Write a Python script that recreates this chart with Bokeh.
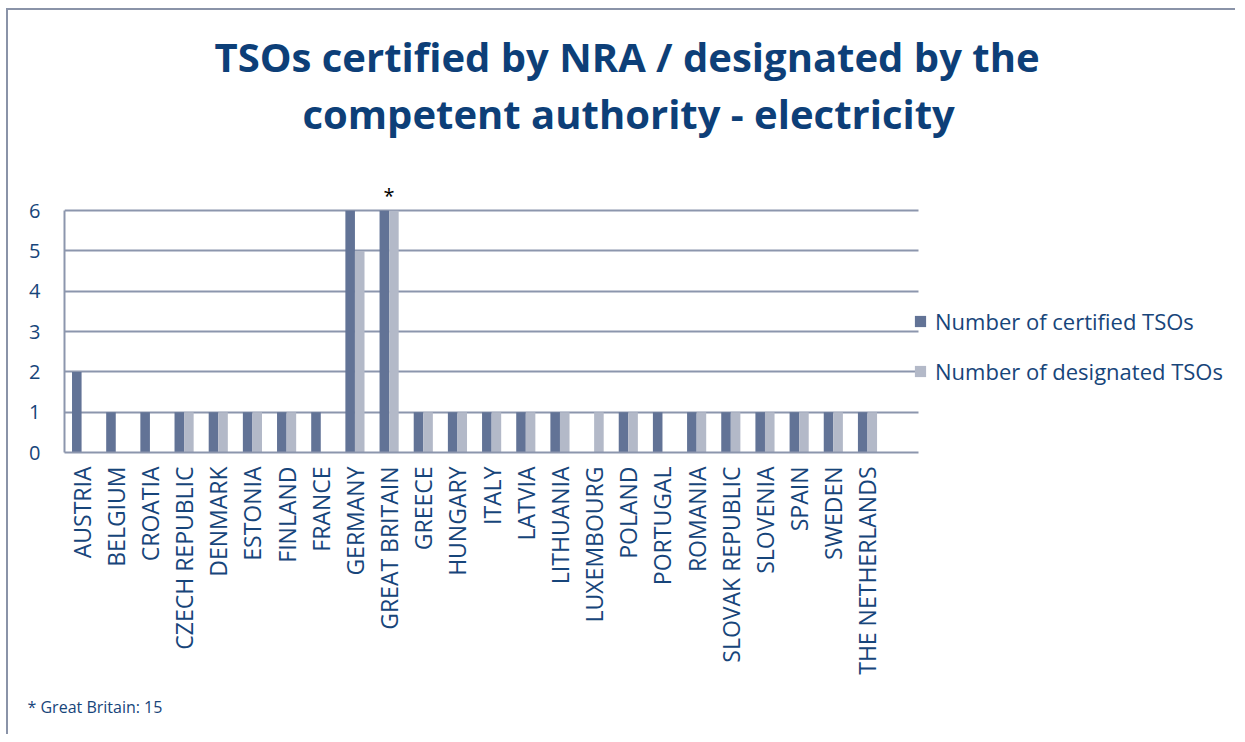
from bokeh.plotting import figure
from bokeh.models import Range1d, FixedTicker, Label, Legend, LegendItem, ColumnDataSource, Title
from bokeh.transform import dodge
from bokeh.embed import file_html
from bokeh.resources import INLINE
import math

countries = ["AUSTRIA", "BELGIUM", "CROATIA", "CZECH REPUBLIC", "DENMARK", "ESTONIA",
             "FINLAND", "FRANCE", "GERMANY", "GREAT BRITAIN", "GREECE", "HUNGARY",
             "ITALY", "LATVIA", "LITHUANIA", "LUXEMBOURG", "POLAND", "PORTUGAL",
             "ROMANIA", "SLOVAK REPUBLIC", "SLOVENIA", "SPAIN", "SWEDEN", "THE NETHERLANDS"]
certified = [2, 1, 1, 1, 1, 1, 1, 1, 6, 6, 1, 1, 1, 1, 1, 0, 1, 1, 1, 1, 1, 1, 1, 1]
designated = [0, 0, 0, 1, 1, 1, 1, 0, 5, 6, 1, 1, 1, 1, 1, 1, 1, 0, 1, 1, 1, 1, 1, 1]
y_ticks = [0, 1, 2, 3, 4, 5, 6]
title_lines = ["TSOs certified by NRA / designated by the", "competent authority - electricity"]
footnote = "* Great Britain: 15"
gb_index = countries.index("GREAT BRITAIN")

FONT = "Open Sans"
TXT = "#17457a"
GRID = "#8c96ad"
DARK = "#627396"
LIGHT = "#b3b9c8"

idx = list(range(len(countries)))
src = ColumnDataSource(dict(x=idx, c=certified, d=designated))
plot_end = len(countries) + 0.5

p = figure(width=1229, height=726, output_backend="svg", toolbar_location=None,
           x_range=Range1d(-0.5, 33.77), y_range=Range1d(0, 7.74),
           min_border_left=56, min_border_right=2, min_border_top=130, min_border_bottom=284)
p.title = None
p.styles = {"border-left": "2px solid #8a93a8", "border-top": "2px solid #8a93a8",
            "margin-left": "6px", "margin-top": "8px"}
p.outline_line_color = None
p.background_fill_color = "white"

r1 = p.vbar(x=dodge("x", -0.14, range=p.x_range), top="c", width=0.28, source=src,
            fill_color=DARK, line_color=None)
r2 = p.vbar(x=dodge("x", 0.14, range=p.x_range), top="d", width=0.28, source=src,
            fill_color=LIGHT, line_color=None)

p.xgrid.grid_line_color = None
p.ygrid.grid_line_color = GRID
p.ygrid.grid_line_width = 2
p.ygrid.ticker = FixedTicker(ticks=y_ticks)
p.ygrid.cross_bounds = (-0.5, plot_end)

p.yaxis.ticker = FixedTicker(ticks=y_ticks)
p.yaxis.bounds = (0, 6)
p.yaxis.major_tick_line_color = None
p.yaxis.minor_tick_line_color = None
p.yaxis.axis_line_color = GRID
p.yaxis.axis_line_width = 2
p.yaxis.major_label_text_font = FONT
p.yaxis.major_label_text_font_size = "20px"
p.yaxis.major_label_text_color = TXT
p.yaxis.major_label_standoff = 18

p.xaxis.ticker = FixedTicker(ticks=idx)
p.xaxis.bounds = (-0.5, plot_end)
p.xaxis.major_label_overrides = {i: c for i, c in enumerate(countries)}
p.xaxis.major_label_orientation = math.pi / 2
p.xaxis.major_tick_line_color = None
p.xaxis.minor_tick_line_color = None
p.xaxis.axis_line_color = GRID
p.xaxis.axis_line_width = 2
p.xaxis.major_label_text_font = FONT
p.xaxis.major_label_text_font_size = "23px"
p.xaxis.major_label_text_color = TXT
p.xaxis.major_label_standoff = 8

legend = Legend(items=[LegendItem(label="Number of certified TSOs", renderers=[r1]),
                       LegendItem(label="Number of designated TSOs", renderers=[r2])],
                location=(849, 66), orientation="vertical")
legend.border_line_color = None
legend.background_fill_alpha = 0
legend.padding = 0
legend.margin = 0
legend.glyph_width = 14
legend.glyph_height = 14
legend.label_standoff = 8
legend.spacing = 20
legend.label_text_font = FONT
legend.label_text_font_size = "22px"
legend.label_text_color = TXT
p.add_layout(legend, "center")

p.add_layout(Title(text=title_lines[1], align="left", offset=238, standoff=0,
                   text_font=FONT, text_font_style="bold", text_font_size="40px",
                   text_color="#0d3f78"), "above")
p.add_layout(Title(text=title_lines[0], align="left", offset=150, standoff=0,
                   text_font=FONT, text_font_style="bold", text_font_size="40px",
                   text_color="#0d3f78"), "above")

p.add_layout(Title(text=footnote, align="left", offset=-37, standoff=32,
                   text_font=FONT, text_font_style="normal", text_font_size="16px",
                   text_color=TXT), "below")

p.add_layout(Label(x=gb_index, y=6, y_offset=2, text="*", text_align="center",
                   text_baseline="bottom", text_font=FONT, text_font_size="20px",
                   text_color="black"))

open("out.html", "w").write(file_html(p, INLINE))
